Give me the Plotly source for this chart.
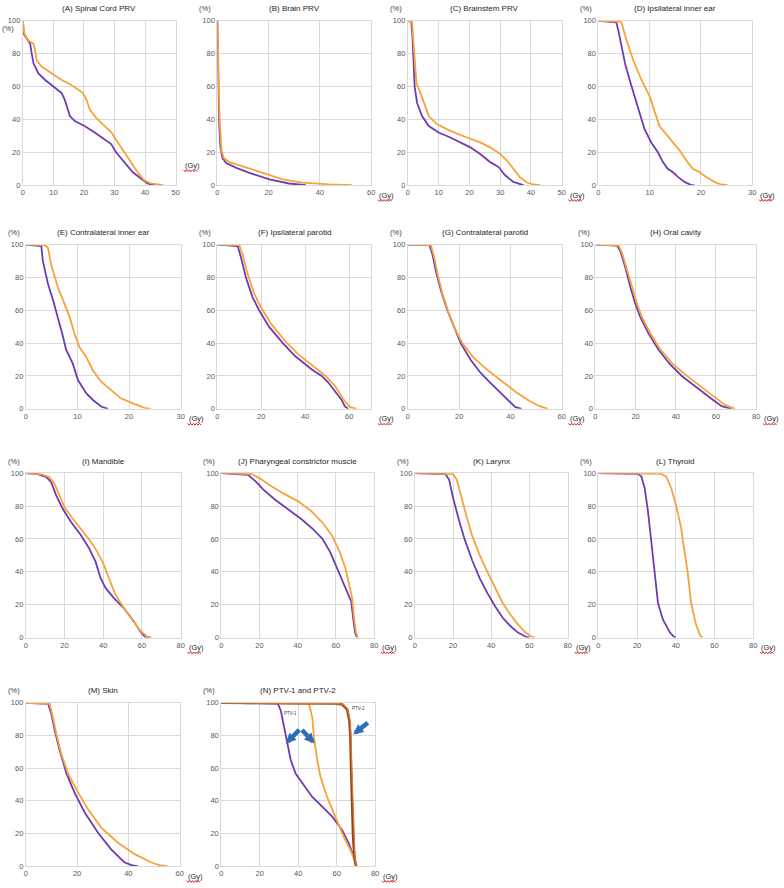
import plotly.graph_objects as go

W, H = 784, 888

PURPLE = "#6F3CB0"
ORANGE = "#F7A23A"

# (A) Spinal Cord PRV
spinal_p_gy = [0, 0.3, 1, 2.4, 2.9, 3.5, 5.1, 7.3, 10, 12.7, 13.7, 14.3, 15.4, 17, 20.2, 23.5, 26.7, 28.9, 30.5, 33.2, 35.9, 38.6, 40.8, 43]
spinal_p_pct = [100, 92, 90, 86, 80, 74, 68, 64, 60, 56, 52, 48, 42, 39, 36, 32, 28, 25, 20, 14, 8, 4, 1, 0]
spinal_o_gy = [0, 0.5, 1.8, 3.5, 4, 4.5, 6.2, 9.4, 12.7, 15.9, 19.7, 20.8, 21.9, 24, 26.8, 29, 31.1, 33.2, 35.4, 37.5, 39.7, 41.9, 46]
spinal_o_pct = [100, 92, 88, 86, 82, 76, 72, 68, 64, 61, 56, 52, 46, 41, 36, 32, 26, 20, 14, 8, 3, 1, 0]

# (B) Brain PRV
brain_p_gy = [0, 0.26, 0.65, 1.2, 2, 3.5, 7.4, 12.5, 20.3, 28, 34.5]
brain_p_pct = [100, 70, 40, 23.5, 16.5, 13.5, 10.5, 7.5, 3.5, 1, 0]
brain_o_gy = [0, 0.4, 0.9, 1.6, 2.5, 4.8, 10, 17.7, 25.5, 33, 43.6, 52.6]
brain_o_pct = [100, 70, 40, 21.5, 16.5, 14, 11.5, 7.5, 3.5, 1.5, 0.5, 0]

# (C) Brainstem PRV
stem_p_gy = [0, 1.1, 1.5, 1.9, 2.2, 3, 4.6, 6.8, 10, 13.8, 17, 20.3, 23.5, 26.8, 29.5, 31.6, 34.3, 37.6]
stem_p_pct = [100, 99.6, 90, 74, 60, 50, 42, 36, 32, 29, 26, 23, 19, 14, 11, 6, 2, 0]
stem_o_gy = [0, 1.4, 1.7, 2.2, 2.8, 4.1, 5.2, 6.8, 9.5, 13.8, 19.2, 23.5, 26.8, 30, 32.2, 34.3, 36.5, 38.7, 40.8, 43]
stem_o_pct = [100, 99, 90, 74, 62, 56, 50, 42, 37, 33, 29, 26, 23, 19, 15, 10, 4.6, 1.6, 0.4, 0]

# (D) Ipsilateral inner ear
ipsi_ear_p_gy = [0, 3.5, 3.9, 4.5, 5.2, 6.1, 7.1, 8.1, 9, 10.3, 11.6, 12.6, 13.5, 14.5, 15.5, 16.8, 18, 18.7]
ipsi_ear_p_pct = [100, 99, 94, 84, 74, 64, 54, 44, 34, 26, 20, 14, 10, 8, 5, 2, 0.2, 0]
ipsi_ear_o_gy = [0, 3.9, 4.5, 5.5, 6.8, 8.4, 10, 11, 11.9, 13.5, 14.8, 16.1, 17.4, 18.4, 19.7, 21, 22.6, 23.9, 25.2]
ipsi_ear_o_pct = [100, 99.6, 99, 88, 76, 64, 54, 44, 36, 30, 25, 20, 14, 10, 8, 5, 2, 0.4, 0]

# (E) Contralateral inner ear
contra_ear_p_gy = [0, 3, 3.3, 4.3, 5.3, 6.2, 7.2, 7.8, 9.1, 10.1, 11.7, 13, 14.6, 15.9]
contra_ear_p_pct = [100, 99, 90, 76, 66, 56, 44, 36, 27.5, 17.5, 9.5, 5.4, 1.4, 0]
contra_ear_o_gy = [0, 3.7, 4.3, 4.9, 6.2, 7.5, 8.5, 9.4, 10.4, 11.7, 13, 14.6, 16.5, 18.4, 21, 23, 24.2]
contra_ear_o_pct = [100, 99.6, 98, 88, 74, 64, 56, 46, 37.5, 31.6, 23.5, 16.5, 11.5, 6.4, 3, 0.6, 0]

# (F) Ipsilateral parotid
ipsi_par_p_gy = [0, 9.3, 10.8, 13, 16, 19, 23.5, 29.8, 35.5, 43, 47.5, 50.5, 56.5, 58, 59.5]
ipsi_par_p_pct = [100, 99, 92, 80, 68, 60, 50, 40, 32, 24, 20, 16, 5.6, 1.6, 0]
ipsi_par_o_gy = [0, 10, 11.5, 13.8, 16.8, 19.8, 24.3, 31, 37, 44.5, 49.3, 53.5, 58, 60.3, 63.3]
ipsi_par_o_pct = [100, 99.6, 94, 82, 70, 62, 52, 41, 33, 25, 20, 14, 4.6, 1.2, 0]

# (G) Contralateral parotid
contra_par_p_gy = [0, 8.4, 9.6, 10.9, 12.9, 15.4, 18, 20.6, 24.4, 28.3, 32.1, 36, 39.2, 41.8, 44.3]
contra_par_p_pct = [100, 99.6, 94, 84, 72, 60, 50, 40, 30, 22, 16, 10, 4.6, 1.2, 0]
contra_par_o_gy = [0, 9, 10.3, 11.6, 13.5, 16, 18.6, 21.2, 25.7, 30.8, 37.3, 42.4, 47.6, 51.4, 54.6]
contra_par_o_pct = [100, 99.6, 92, 82, 70, 58, 48, 40, 31, 24, 16, 10, 4.6, 1.6, 0]

# (H) Oral cavity
oral_p_gy = [0, 10.7, 12.4, 14.9, 17.4, 19.8, 22.3, 26.4, 31.4, 37.2, 43, 51.2, 57.9, 62.8, 67.8]
oral_p_pct = [100, 99.4, 96, 86, 74, 64, 56, 46, 36, 27, 20, 12, 6, 1.6, 0]
oral_o_gy = [0, 11.6, 13.2, 15.7, 18.2, 20.7, 23.1, 27.3, 32.2, 38, 44.6, 52.9, 59.5, 64.5, 69.4]
oral_o_pct = [100, 99.4, 95, 85, 74, 64, 56, 46, 36.4, 28, 21, 13, 7, 2.4, 0]

# (I) Mandible
mand_p_gy = [0, 6.3, 10.6, 13.1, 15.7, 19, 23.3, 28.4, 32.7, 36, 38.6, 41.2, 45.4, 50.5, 55.7, 59, 61.6, 64.2]
mand_p_pct = [100, 99.4, 97.6, 94.6, 86.5, 78.5, 70.4, 62.4, 54.3, 46.3, 36.2, 30.2, 24.1, 18.1, 10, 4, 0.4, 0]
mand_o_gy = [0, 8, 12.3, 14.8, 17.4, 19.9, 24.2, 29.3, 33.5, 36.9, 40.3, 42.9, 46.3, 50.6, 55.7, 59, 62.5, 65]
mand_o_pct = [100, 99.4, 97.6, 93.6, 86.5, 79.5, 72.4, 64.4, 58.4, 52.3, 44.3, 36.2, 26.2, 18.1, 10, 4.4, 0.6, 0]

# (J) Pharyngeal constrictor muscle
phar_p_gy = [0, 14, 18, 22, 28, 35, 42, 48, 53, 57, 60, 63, 66, 68, 69, 70, 71]
phar_p_pct = [100, 99, 95, 90, 84, 78, 72, 66, 60, 52, 44, 36, 28, 22, 12, 3, 0]
phar_o_gy = [0, 16, 20, 25, 32, 40, 47, 53, 58, 62, 65, 67, 68.5, 69.5, 70.5, 71.5]
phar_o_pct = [100, 99.5, 97, 93, 88, 83, 77, 70, 62, 52, 42, 32, 24, 12, 3, 0]

# (K) Larynx
lar_p_gy = [0, 16, 18, 20, 23, 26, 30, 34, 38, 42, 46, 50, 54, 58, 60]
lar_p_pct = [100, 99.5, 96, 85, 72, 60, 47, 36, 27, 19, 12, 7, 3, 0.5, 0]
lar_o_gy = [0, 20, 22, 24, 27, 30, 34, 38, 42, 46, 50, 54, 58, 61, 63]
lar_o_pct = [100, 99.5, 96, 87, 74, 62, 50, 40, 30, 21, 14, 8, 3, 0.5, 0]

# (L) Thyroid
thy_p_gy = [0, 20.5, 22.2, 23.9, 25.6, 27.4, 29.1, 30.8, 33.3, 35, 37, 39, 40]
thy_p_pct = [100, 99.6, 98, 91, 77, 57, 39, 21, 11, 7, 3, 0.5, 0]
thy_o_gy = [0, 32.5, 35, 37.6, 40, 42.7, 44.4, 46.2, 47.9, 50.4, 52, 53, 54]
thy_o_pct = [100, 99.6, 98, 91, 81, 67, 53, 39, 21, 8, 3, 0.5, 0]

# (M) Skin
skin_p_gy = [0, 8.7, 10, 11.3, 13.2, 15.8, 19, 22.9, 28.1, 33.2, 38.4, 41.7, 43.6]
skin_p_pct = [100, 99.4, 93, 83, 71, 57, 45, 33, 20.6, 10.5, 2.4, 0.4, 0]
skin_o_gy = [0, 9.3, 10.6, 11.9, 13.8, 16.4, 19.7, 24.2, 29.4, 35.8, 42.3, 48.8, 52.7, 55.2]
skin_o_pct = [100, 99.4, 91, 81, 69, 57, 47, 35, 23.6, 14.5, 7.5, 2.4, 0.4, 0]

# (N) PTV-1 and PTV-2
ptv1_p_gy = [0, 29.3, 31, 32.7, 34.4, 36.1, 38.7, 42.2, 47.3, 52.5, 57.7, 62.8, 66.3, 68.8, 70.2]
ptv1_p_pct = [100, 99.6, 95, 85, 75, 65, 56.6, 50.5, 42.4, 36.4, 30.3, 22.2, 14, 6, 0]
ptv1_o_gy = [0, 45.6, 47.3, 48.2, 49.9, 51.6, 55, 59.4, 63.7, 67.1, 69.4, 70.6]
ptv1_o_pct = [100, 99.6, 91, 79, 65, 54.5, 42.4, 30.3, 18, 10, 4, 0]
ptv2_p_gy = [0, 59.4, 62.8, 65.4, 66.6, 67.1, 67.5, 68, 68.5, 69.2, 70]
ptv2_p_pct = [100, 99.6, 99, 96, 89, 79, 59, 38, 18, 6, 0]
ptv2_o_gy = [0, 60, 63.5, 65.8, 67, 67.5, 67.9, 68.4, 68.9, 69.5, 70.3]
ptv2_o_pct = [100, 99.6, 99, 96, 89, 79, 59, 38, 18, 6, 0]

# titel, pixel box (left, top, right, bottom), x max, x ticks, curves
panels = [
    ("(A) Spinal Cord PRV", (21, 17, 175, 183), 50, [0, 10, 20, 30, 40, 50],
     [(spinal_p_gy, spinal_p_pct), (spinal_o_gy, spinal_o_pct)]),
    ("(B) Brain PRV", (217, 17, 372, 183), 60, [0, 20, 40, 60],
     [(brain_p_gy, brain_p_pct), (brain_o_gy, brain_o_pct)]),
    ("(C) Brainstem PRV", (409, 17, 564, 183), 50, [0, 10, 20, 30, 40, 50],
     [(stem_p_gy, stem_p_pct), (stem_o_gy, stem_o_pct)]),
    ("(D) Ipsilateral inner ear", (601, 17, 756, 183), 30, [0, 10, 20, 30],
     [(ipsi_ear_p_gy, ipsi_ear_p_pct), (ipsi_ear_o_gy, ipsi_ear_o_pct)]),
    ("(E) Contralateral inner ear", (24, 243, 180, 409), 30, [0, 10, 20, 30],
     [(contra_ear_p_gy, contra_ear_p_pct), (contra_ear_o_gy, contra_ear_o_pct)]),
    ("(F) Ipsilateral parotid", (217, 243, 372, 409), 70, [0, 20, 40, 60],
     [(ipsi_par_p_gy, ipsi_par_p_pct), (ipsi_par_o_gy, ipsi_par_o_pct)]),
    ("(G) Contralateral parotid", (409, 243, 564, 409), 60, [0, 20, 40, 60],
     [(contra_par_p_gy, contra_par_p_pct), (contra_par_o_gy, contra_par_o_pct)]),
    ("(H) Oral cavity", (598, 243, 760, 409), 80, [0, 20, 40, 60, 80],
     [(oral_p_gy, oral_p_pct), (oral_o_gy, oral_o_pct)]),
    ("(I) Mandible", (24, 474, 180, 640), 80, [0, 20, 40, 60, 80],
     [(mand_p_gy, mand_p_pct), (mand_o_gy, mand_o_pct)]),
    ("(J) Pharyngeal constrictor muscle", (221, 474, 375, 640), 80, [0, 20, 40, 60, 80],
     [(phar_p_gy, phar_p_pct), (phar_o_gy, phar_o_pct)]),
    ("(K) Larynx", (416, 474, 570, 640), 80, [0, 20, 40, 60, 80],
     [(lar_p_gy, lar_p_pct), (lar_o_gy, lar_o_pct)]),
    ("(L) Thyroid", (601, 474, 757, 640), 80, [0, 20, 40, 60, 80],
     [(thy_p_gy, thy_p_pct), (thy_o_gy, thy_o_pct)]),
    ("(M) Skin", (24, 706, 179, 871), 60, [0, 20, 40, 60],
     [(skin_p_gy, skin_p_pct), (skin_o_gy, skin_o_pct)]),
    ("(N) PTV-1 and PTV-2", (221, 706, 376, 871), 80, [0, 20, 40, 60, 80],
     [(ptv1_p_gy, ptv1_p_pct), (ptv1_o_gy, ptv1_o_pct)]),
]

FONT = "Liberation Sans, Arial, sans-serif"


def px(x):
    return x / W


def py(y):
    return 1 - y / H


def squiggle(x0, y0, width):
    # rote Wellenlinie wie die Rechtschreibpruefung
    pts = []
    step = 1.5
    n = int(width / step)
    for k in range(n + 1):
        yy = y0 + (0.9 if k % 2 else -0.9)
        pts.append(f"{px(x0 + k * step):.5f},{py(yy):.5f}")
    return "M " + " L ".join(pts)


fig = go.Figure()
annotations = []
shapes = []
layout_axes = {}

for i, (title, box, xmax, xticks, curves) in enumerate(panels, 1):
    l, t, r, b = box
    xa = "xaxis" if i == 1 else f"xaxis{i}"
    ya = "yaxis" if i == 1 else f"yaxis{i}"
    xr = "x" if i == 1 else f"x{i}"
    yr = "y" if i == 1 else f"y{i}"
    axis_style = dict(showgrid=True, gridcolor="#D9D9D9", gridwidth=1, zeroline=False,
                      showline=True, linecolor="#D9D9D9", linewidth=1, mirror=True,
                      ticks="", tickfont=dict(family=FONT, size=7.5, color="#595959"),
                      fixedrange=True)
    layout_axes[xa] = dict(axis_style, domain=[px(l), px(r)], anchor=yr, range=[0, xmax],
                           tickmode="array", tickvals=xticks)
    layout_axes[ya] = dict(axis_style, domain=[py(b), py(t)], anchor=xr, range=[0, 100],
                           tickmode="array", tickvals=[0, 20, 40, 60, 80, 100])

    colors = [PURPLE, ORANGE]
    for (gx, gy), col in zip(curves, colors):
        fig.add_trace(go.Scatter(x=gx, y=gy, mode="lines", xaxis=xr, yaxis=yr,
                                 line=dict(color=col, width=1.8), hoverinfo="skip"))

    annotations.append(dict(text=title, x=px((l + r) / 2), y=py(t - 12), xref="paper", yref="paper",
                            showarrow=False, xanchor="center", yanchor="middle",
                            font=dict(family=FONT, size=8, color="#262626")))
    if i == 1:
        pct_pos = (l - 15, t + 8)
        gy_pos = (r + 7, 163)
    elif r + 22 > W:
        pct_pos = (l - 12, t - 12)
        gy_pos = (W - 17, b + 10)
    else:
        pct_pos = (l - 12, t - 12)
        gy_pos = (r + 6, b + 10)
    annotations.append(dict(text="(%)", x=px(pct_pos[0]), y=py(pct_pos[1]), xref="paper", yref="paper",
                            showarrow=False, xanchor="center", yanchor="middle",
                            font=dict(family=FONT, size=7.5, color="#404040")))
    annotations.append(dict(text="(Gy)", x=px(gy_pos[0]), y=py(gy_pos[1]), xref="paper", yref="paper",
                            showarrow=False, xanchor="left", yanchor="middle",
                            font=dict(family=FONT, size=7.5, color="#262626")))
    shapes.append(dict(type="path", xref="paper", yref="paper",
                       path=squiggle(gy_pos[0] + 1, gy_pos[1] + 5.5, 14),
                       line=dict(color="#E02020", width=1)))

# PTV-2 Kurven im letzten Panel
fig.add_trace(go.Scatter(x=ptv2_p_gy, y=ptv2_p_pct, mode="lines", xaxis="x14", yaxis="y14",
                         line=dict(color="#8E4420", width=2.4), hoverinfo="skip"))
fig.add_trace(go.Scatter(x=ptv2_o_gy, y=ptv2_o_pct, mode="lines", xaxis="x14", yaxis="y14",
                         line=dict(color="#E0782A", width=1.3), hoverinfo="skip"))

for txt, (tx, ty) in [("PTV-1", (291, 721)), ("PTV-2", (359, 716))]:
    annotations.append(dict(text=txt, x=px(tx), y=py(ty), xref="paper", yref="paper",
                            showarrow=False, font=dict(family=FONT, size=4.5, color="#404040")))

# blaue Pfeile
for (hx, hy, ax, ay) in [(286, 747, 15, -15), (315, 747, -14, -15), (354, 738, 16, -13)]:
    annotations.append(dict(text="", x=px(hx), y=py(hy), xref="paper", yref="paper",
                            showarrow=True, ax=ax, ay=ay, arrowhead=2, arrowsize=0.45,
                            arrowwidth=4.5, arrowcolor="#2E6DB8"))

fig.update_layout(width=W, height=H, autosize=False, margin=dict(l=0, r=0, t=0, b=0),
                  paper_bgcolor="white", plot_bgcolor="white", showlegend=False,
                  annotations=annotations, shapes=shapes, **layout_axes)

fig.write_html("out.html", config={"displayModeBar": False},
               post_script="document.body.style.margin='0px';")
